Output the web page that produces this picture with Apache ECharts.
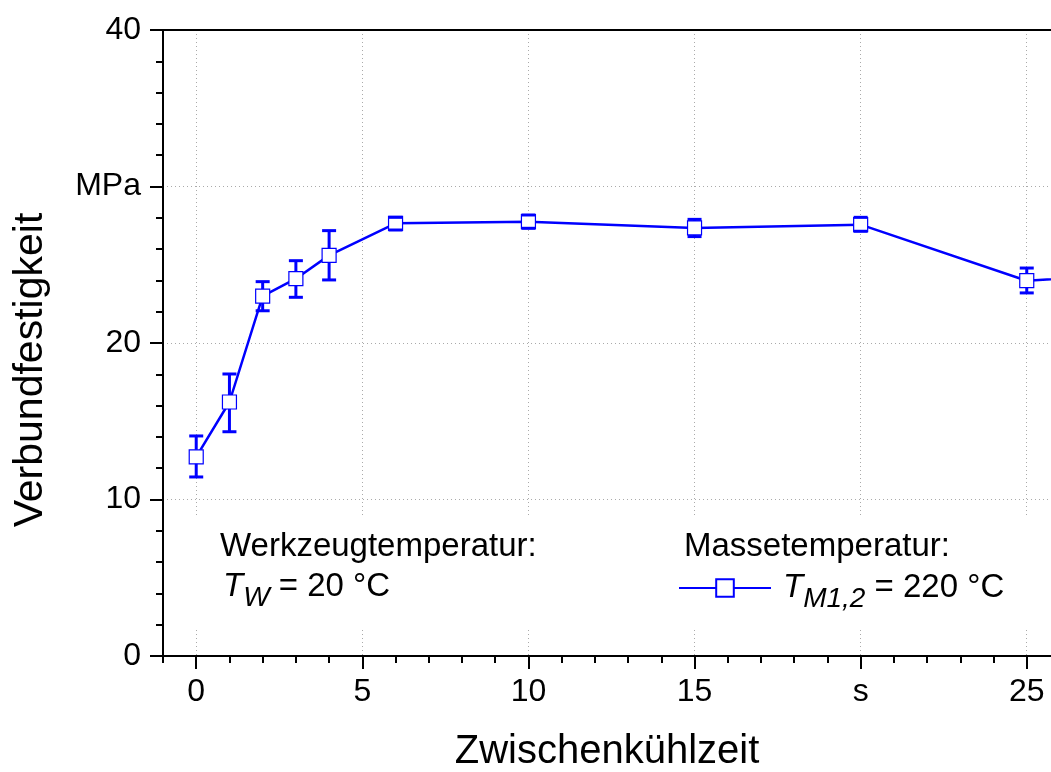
<!DOCTYPE html>
<html>
<head>
<meta charset="utf-8">
<script src="https://cdn.jsdelivr.net/npm/echarts@6/dist/echarts.min.js"></script>
<style>
html, body { margin: 0; padding: 0; background: #fff; }
#chart { width: 1051px; height: 772px; }
</style>
</head>
<body>
<div id="chart"></div>
<script>
const zeit = [0, 1, 2, 3, 4, 6, 10, 15, 20, 25, 30]
const festigkeit = [12.73, 16.23, 23.0, 24.11, 25.6, 27.65, 27.75, 27.35, 27.56, 23.98, 24.6]
const fehlerUnten = [11.44, 14.33, 22.06, 22.92, 24.03, 27.22, 27.33, 26.8, 27.14, 23.2, null]
const fehlerOben = [14.06, 18.02, 23.92, 25.26, 27.18, 28.03, 28.18, 27.9, 28.03, 24.79, null]

// Achsen
const xTickValues = [0, 5, 10, 15, 20, 25]
const xTickLabels = ['0', '5', '10', '15', 's', '25']
const xMinorTicks = [-1, 1, 2, 3, 4, 6, 7, 8, 9, 11, 12, 13, 14, 16, 17, 18, 19, 21, 22, 23, 24]
const yTickValues = [0, 10, 20, 30, 40]
const yTickLabels = ['0', '10', '20', 'MPa', '40']

const FONT = '"Liberation Sans", Arial, Helvetica, sans-serif'
const blau = '#0000ff'
const xMin = -1
const xMax = 25.73
const schwarz = { color: '#000', width: 2 }
const gitter = { color: '#aaa', type: [1, 3], width: 1 }

const renderFehler = (params, api) => {
  const x = api.value(0)
  const pc = api.coord([x, api.value(1)])
  const pl = api.coord([x, api.value(2)])
  const ph = api.coord([x, api.value(3)])
  const halb = 7
  const box = 7
  const s = { stroke: blau, lineWidth: 3 }
  const children = [
    { type: 'line', shape: { x1: pl[0] - halb, y1: pl[1], x2: pl[0] + halb, y2: pl[1] }, style: s },
    { type: 'line', shape: { x1: ph[0] - halb, y1: ph[1], x2: ph[0] + halb, y2: ph[1] }, style: s }
  ]
  // Whisker nur ausserhalb des Symbols
  if (ph[1] < pc[1] - box) {
    children.push({ type: 'line', shape: { x1: ph[0], y1: ph[1], x2: ph[0], y2: pc[1] - box }, style: s })
  }
  if (pl[1] > pc[1] + box) {
    children.push({ type: 'line', shape: { x1: pl[0], y1: pc[1] + box, x2: pl[0], y2: pl[1] }, style: s })
  }
  return { type: 'group', children }
}

const fehlerDaten = []
zeit.forEach((x, i) => {
  if (fehlerUnten[i] != null) fehlerDaten.push([x, festigkeit[i], fehlerUnten[i], fehlerOben[i]])
})

const option = {
  animation: false,
  backgroundColor: '#fff',
  textStyle: { fontFamily: FONT },
  grid: { left: 163, top: 30, right: 0, bottom: 116, outerBoundsMode: 'none' },
  legend: {
    left: 678,
    top: 571,
    itemWidth: 92,
    itemHeight: 22,
    padding: 0,
    data: ['TM'],
    formatter: () => '{t|T}{s|M1,2}{n| = 220 °C}',
    textStyle: {
      fontFamily: FONT,
      color: '#000',
      rich: {
        t: { fontSize: 33, fontStyle: 'italic', fontFamily: FONT, padding: [0, 0, 0, 7], lineHeight: 34, verticalAlign: 'top' },
        s: { fontSize: 28, fontStyle: 'italic', fontFamily: FONT, padding: [14, 0, 0, 0], lineHeight: 34, verticalAlign: 'top' },
        n: { fontSize: 33, fontFamily: FONT, lineHeight: 34, verticalAlign: 'top' }
      }
    }
  },
  graphic: [
    {
      type: 'text', left: 220, top: 530, z: 10,
      style: { text: 'Werkzeugtemperatur:', font: '33px ' + FONT, fill: '#000' }
    },
    {
      type: 'text', left: 223, top: 570, z: 10,
      style: {
        text: '{t|T}{s|W}{n| = 20 °C}',
        fill: '#000',
        rich: {
          t: { font: 'italic 33px ' + FONT, lineHeight: 34, verticalAlign: 'top' },
          s: { font: 'italic 28px ' + FONT, padding: [14, 0, 0, 0], lineHeight: 34, verticalAlign: 'top' },
          n: { font: '33px ' + FONT, lineHeight: 34, verticalAlign: 'top' }
        }
      }
    },
    {
      type: 'text', left: 684, top: 530, z: 10,
      style: { text: 'Massetemperatur:', font: '33px ' + FONT, fill: '#000' }
    }
  ],
  xAxis: [
    {
      type: 'value', min: xMin, max: xMax, position: 'bottom',
      name: 'Zwischenkühlzeit', nameLocation: 'middle', nameGap: 76,
      nameTextStyle: { fontSize: 40, color: '#000', fontFamily: FONT },
      axisLine: { show: true, onZero: false, lineStyle: schwarz },
      axisTick: { show: true, length: 13, lineStyle: schwarz, customValues: xTickValues },
      axisLabel: {
        customValues: xTickValues,
        formatter: v => xTickLabels[xTickValues.indexOf(v)],
        fontSize: 32, color: '#000', margin: 20, fontFamily: FONT
      },
      splitLine: { show: true, lineStyle: gitter }
    },
    {
      type: 'value', min: xMin, max: xMax, position: 'bottom',
      axisLine: { show: false, onZero: false },
      axisTick: { show: true, length: 7, lineStyle: schwarz, customValues: xMinorTicks },
      axisLabel: { show: false },
      splitLine: { show: false }
    },
    {
      type: 'value', min: xMin, max: xMax, position: 'top',
      axisLine: { show: true, onZero: false, lineStyle: schwarz },
      axisTick: { show: false },
      axisLabel: { show: false },
      splitLine: { show: false }
    }
  ],
  yAxis: {
    type: 'value', min: 0, max: 40, interval: 10,
    name: 'Verbundfestigkeit', nameLocation: 'middle', nameGap: 112, nameRotate: 90,
    nameTextStyle: { fontSize: 41, color: '#000', fontFamily: FONT, padding: [0, 54, 0, 0] },
    axisLine: { show: true, onZero: false, lineStyle: schwarz },
    axisTick: { show: true, length: 13, lineStyle: schwarz },
    minorTick: { show: true, splitNumber: 5, length: 7, lineStyle: schwarz },
    axisLabel: {
      formatter: v => yTickLabels[yTickValues.indexOf(v)],
      fontSize: 32, color: '#000', margin: 22, fontFamily: FONT
    },
    splitLine: { show: true, lineStyle: gitter },
    minorSplitLine: { show: false }
  },
  series: [
    {
      name: 'TM',
      type: 'line',
      xAxisIndex: 0,
      data: zeit.map((x, i) => [x, festigkeit[i]]),
      symbol: 'rect',
      symbolSize: 14,
      showAllSymbol: true,
      clip: true,
      z: 3,
      lineStyle: { color: blau, width: 2.5 },
      itemStyle: { color: '#fff', borderColor: blau, borderWidth: 1.2 },
      markArea: {
        silent: true,
        itemStyle: { color: '#fff' },
        data: [[{ xAxis: -0.95, yAxis: 8.9 }, { xAxis: xMax, yAxis: 1.7 }]]
      }
    },
    {
      name: 'Fehler',
      type: 'custom',
      xAxisIndex: 0,
      z: 4,
      renderItem: renderFehler,
      encode: { x: 0, y: [1, 2, 3] },
      data: fehlerDaten
    }
  ]
}

const chart = echarts.init(document.getElementById('chart'))
chart.setOption(option)
</script>
</body>
</html>
